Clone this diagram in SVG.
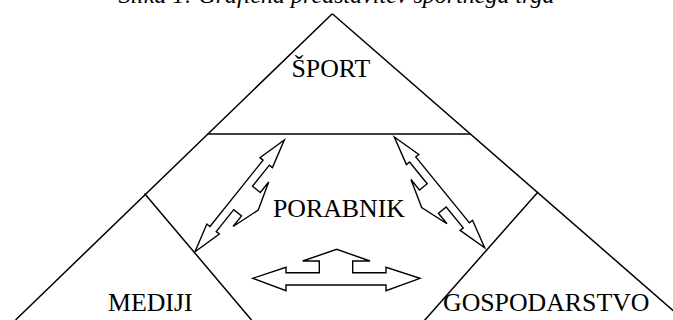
<svg xmlns="http://www.w3.org/2000/svg" width="673" height="320" viewBox="0 0 673 320">
  <style>
    .edge { fill: none; stroke: #000; stroke-width: 1.5; stroke-linecap: butt; }
    .block { fill: #fff; stroke: #000; stroke-width: 1.4; stroke-linejoin: miter; }
    .lbl { font-family: "Liberation Serif", "Times New Roman", serif; font-size: 25.8px; fill: #000; }
    .title { font-family: "Liberation Serif", "Times New Roman", serif; font-size: 24px; font-style: italic; fill: #000; }
  </style>
  <defs>
    <!-- left-right-up block arrow, local frame: u along the axis (0..143), v toward the side head -->
    <polygon id="triArrow" points="0,0 29,-8 29,-4 114,-4 114,-8 143,0 114,8 114,4 87,4 87,14 100.5,14 72,23.4 43.5,14 57,14 57,4 29,4 29,8"/>
  </defs>

  <rect width="673" height="320" fill="#fff"/>

  <text class="title" x="336.5" y="3" text-anchor="middle">Slika 1: Grafična predstavitev športnega trga</text>

  <g id="frame">
    <line class="edge" x1="332.3" y1="13.7" x2="15.5" y2="320"/>
    <line class="edge" x1="332.3" y1="13.7" x2="684" y2="320"/>
    <line class="edge" x1="207.5" y1="134" x2="470.5" y2="134"/>
    <line class="edge" x1="144.5" y1="193.5" x2="251.5" y2="320"/>
    <line class="edge" x1="538" y1="192" x2="424" y2="321"/>
  </g>

  <g id="sport">
    <text class="lbl" x="291.5" y="76.7">ŠPORT</text>
  </g>
  <g id="porabnik">
    <text class="lbl" x="273" y="217.3">PORABNIK</text>
  </g>
  <g id="mediji">
    <text class="lbl" x="108" y="310.5">MEDIJI</text>
  </g>
  <g id="gospodarstvo">
    <text class="lbl" x="443" y="310.5">GOSPODARSTVO</text>
  </g>

  <g id="connectors">
    <use href="#triArrow" class="block" transform="matrix(0.6245 -0.7811 0.7811 0.6245 195 251.7)"/>
    <use href="#triArrow" class="block" transform="matrix(0.632 0.775 -0.775 0.632 394.3 137)"/>
    <polygon class="block" points="252.7,278.3 286,267.3 286,272.7 319.3,272.7 319.3,261 302.7,261 336.7,249.3 370,261 352.7,261 352.7,272.7 386,272.7 386,267.3 420,278.3 386,290.7 386,285 286,285 286,290.7"/>
  </g>
</svg>
